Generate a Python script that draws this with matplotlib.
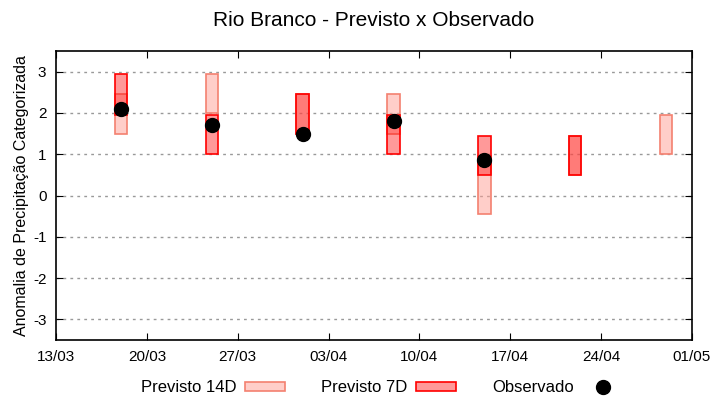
import numpy as np
import matplotlib.pyplot as plt
import matplotlib.dates as mdates
from matplotlib.patches import Rectangle
from matplotlib.lines import Line2D
from datetime import datetime

plt.rcParams['font.family'] = ['Liberation Sans', 'DejaVu Sans']
plt.rcParams['axes.unicode_minus'] = False

# forecast / observation dates (weekly)
dates = ['2024-03-18', '2024-03-25', '2024-04-01', '2024-04-08',
         '2024-04-15', '2024-04-22', '2024-04-29']

# 14-day forecast range (low, high); None = no forecast
prev14_low = [1.50, 2.00, 1.50, 1.50, -0.45, 0.50, 1.00]
prev14_high = [2.45, 2.95, 2.45, 2.45, 0.95, 1.45, 1.95]

# 7-day forecast range
prev7_low = [1.95, 1.00, 1.50, 1.00, 0.50, 0.50, None]
prev7_high = [2.95, 1.95, 2.45, 1.95, 1.45, 1.45, None]

# observed categorized anomaly
obs_dates = ['2024-03-18', '2024-03-25', '2024-04-01', '2024-04-08', '2024-04-15']
observado = [2.10, 1.70, 1.50, 1.80, 0.87]

xticks = ['2024-03-13', '2024-03-20', '2024-03-27', '2024-04-03',
          '2024-04-10', '2024-04-17', '2024-04-24', '2024-05-01']

c14_face = (1.0, 0.62, 0.58, 0.5)
c14_edge = '#f4806f'
c7_face = (1.0, 0.0, 0.0, 0.4)
c7_edge = '#ff0000'
width = 0.97  # days

fig = plt.figure(figsize=(7.2, 4.0), dpi=100)
ax = fig.add_axes([0.078, 0.15, 0.883, 0.7225])

d = [mdates.date2num(datetime.strptime(s, '%Y-%m-%d')) for s in dates]

# 14D boxes first, 7D on top (transparent -> overlap gets darker)
for x, lo, hi in zip(d, prev14_low, prev14_high):
    if lo is None:
        continue
    ax.add_patch(Rectangle((x - width / 2, lo), width, hi - lo,
                           facecolor=c14_face, edgecolor=c14_edge, lw=1.2, zorder=2))
for x, lo, hi in zip(d, prev7_low, prev7_high):
    if lo is None:
        continue
    ax.add_patch(Rectangle((x - width / 2, lo), width, hi - lo,
                           facecolor=c7_face, edgecolor=c7_edge, lw=1.2, zorder=3))

od = [mdates.date2num(datetime.strptime(s, '%Y-%m-%d')) for s in obs_dates]
ax.plot(od, observado, 'o', color='black', markersize=10, zorder=4)

xt = [mdates.date2num(datetime.strptime(s, '%Y-%m-%d')) for s in xticks]
ax.set_xlim(xt[0], xt[-1])
ax.set_xticks(xt)
ax.xaxis.set_major_formatter(mdates.DateFormatter('%d/%m'))
ax.set_ylim(-3.5, 3.5)
ax.set_yticks(np.arange(-3, 4, 1))

ax.grid(axis='y', color='#999999', linestyle=(0, (2, 3)), lw=1)
ax.set_axisbelow(True)
ax.tick_params(direction='in', top=True, right=True, length=5, labelsize=11, pad=7)
for s in ax.spines.values():
    s.set_linewidth(1.2)

ax.set_ylabel('Anomalia de Precipitação Categorizada', fontsize=11.5, labelpad=3)
ax.set_title('Rio Branco - Previsto x Observado', fontsize=15, pad=18)

handles = [
    Rectangle((0, 0), 1, 1, facecolor=c14_face, edgecolor=c14_edge, lw=1.2),
    Rectangle((0, 0), 1, 1, facecolor=c7_face, edgecolor=c7_edge, lw=1.2),
    Line2D([], [], marker='o', color='black', linestyle='none', markersize=10),
]
fig.legend(handles, ['Previsto 14D', 'Previsto 7D', 'Observado'],
           loc='lower center', bbox_to_anchor=(0.53, -0.025), ncol=3,
           frameon=False, markerfirst=False, fontsize=12,
           handlelength=2.4, handleheight=0.45, handletextpad=0.5,
           columnspacing=2.2)

fig.savefig('out.png', dpi=100)
